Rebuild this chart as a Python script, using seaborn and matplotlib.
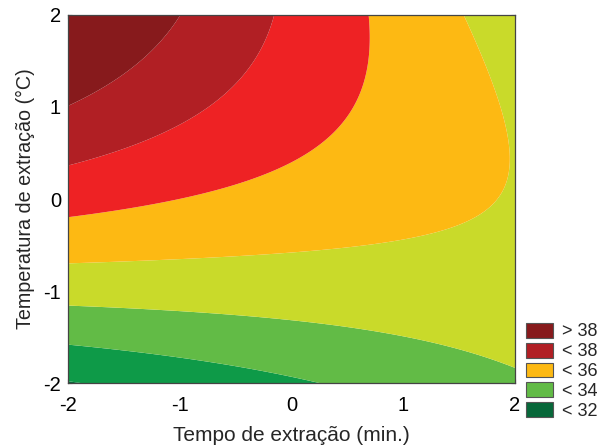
import numpy as np
import matplotlib
matplotlib.use("Agg")
import matplotlib.pyplot as plt
from matplotlib.patches import Patch
import seaborn as sns

# Fitted second-order response surface (coded variables)
coef_names = ["b0", "b1", "b2", "b11", "b22", "b12"]
coef_values = [35.6389, -0.3549, 0.9835, 0.0044, -0.1975, -0.4152]

# Contour levels and band colours (low -> high)
levels = [20, 32, 33, 34, 35, 36, 37, 38, 50]
band_colors = ["#07683A", "#0E9A48", "#62BB46", "#C9DA2A",
               "#FDB913", "#EE2224", "#B11F24", "#871A1C"]

# Legend entries
legend_labels = ["> 38", "< 38", "< 36", "< 34", "< 32"]
legend_colors = ["#871A1C", "#B11F24", "#FDB913", "#62BB46", "#07683A"]

ticks = [-2, -1, 0, 1, 2]

sns.set_theme(style="white")
plt.rcParams["font.family"] = ["Liberation Sans", "DejaVu Sans"]

b = dict(zip(coef_names, coef_values))
x = np.linspace(-2, 2, 401)
y = np.linspace(-2, 2, 401)
X, Y = np.meshgrid(x, y)
Z = (b["b0"] + b["b1"] * X + b["b2"] * Y + b["b11"] * X**2
     + b["b22"] * Y**2 + b["b12"] * X * Y)

fig = plt.figure(figsize=(6.11, 4.48), dpi=100)
ax = fig.add_axes([68 / 611, 1 - 383 / 448, (515 - 68) / 611, (383 - 15) / 448])
ax.contourf(X, Y, Z, levels=levels, colors=band_colors, antialiased=True)

ax.set_xlim(-2, 2)
ax.set_ylim(-2, 2)
ax.set_xticks(ticks)
ax.set_yticks(ticks)
ax.set_xticklabels([str(t) for t in ticks])
ax.set_yticklabels([str(t) for t in ticks])
ax.tick_params(direction="in", length=3, width=0.8, colors="#333333",
               labelcolor="black", labelsize=14.5, top=True, right=True,
               bottom=True, left=True)
ax.tick_params(axis="x", pad=9)
ax.tick_params(axis="y", pad=5)
for s in ax.spines.values():
    s.set_color("#444444")
    s.set_linewidth(0.9)

ax.set_xlabel("Tempo de extração (min.)", fontsize=15, labelpad=8)
ax.set_ylabel("Temperatura de extração (°C)", fontsize=14.2, labelpad=6)

handles = [Patch(facecolor=c, edgecolor="#555555", linewidth=0.8)
           for c in legend_colors]
fig.legend(handles, legend_labels, loc="lower left",
           bbox_to_anchor=(526 / 611, 28 / 448), frameon=False,
           fontsize=13, handlelength=1.5, handleheight=0.9,
           handletextpad=0.5, labelspacing=0.12, borderaxespad=0,
           borderpad=0)

fig.savefig("out.png", dpi=100)
